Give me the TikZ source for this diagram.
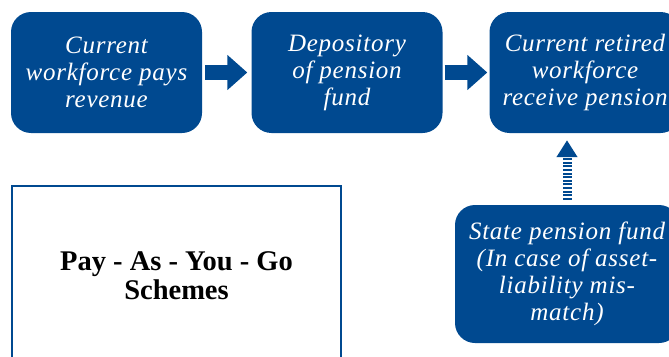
\documentclass[tikz,border=0pt]{standalone}
\usepackage{fontspec}
\setmainfont{Liberation Serif}
\newfontfamily\boxfont[LetterSpace=3]{Liberation Serif}
\usetikzlibrary{arrows.meta}
\definecolor{pblue}{RGB}{0,73,144}
\tikzset{
  bluebox/.style={fill=pblue, rounded corners=20pt, text=white, align=center,
    minimum width=191pt, minimum height=121pt, inner sep=0pt,
    font=\boxfont\fontsize{25}{27}\selectfont\itshape},
  blockarrow/.style={draw=pblue, line width=15pt, -{Triangle[length=20pt,width=34pt]}},
  dasharrow/.style={draw=pblue, line width=9pt, dash pattern=on 2pt off 1.6pt,
    -{Triangle[length=17pt,width=20pt]}},
  framebox/.style={draw=pblue, line width=2pt, minimum width=329pt, minimum height=180pt,
    inner sep=0pt, align=center, font=\fontsize{28.5}{29}\selectfont\bfseries}
}
\begin{document}
\begin{tikzpicture}[x=1pt,y=-1pt]
\useasboundingbox (0,0) rectangle (669,356);
\clip (0,0) rectangle (669,356);
\node[bluebox] (a) at (106.5,72.5) {Current\\workforce pays\\revenue};
\node[bluebox] (b) at (347,72.5) {Depository\\of pension\\fund};
\node[bluebox] (c) at (585,72.5) {Current retired\\workforce\\receive pension};
\node[bluebox, minimum width=224pt, minimum height=138pt] (d) at (567,274) {State pension fund\\(In case of asset-\\liability mis-\\match)};
\node[framebox] (e) at (176.5,276) {Pay - As - You - Go\\Schemes};
\draw[blockarrow, shorten <=3pt, shorten >=4pt] (a.east) -- (b.west);
\draw[blockarrow, shorten <=2pt, shorten >=2pt] (b.east) -- (c.west);
\draw[dasharrow, shorten <=5pt, shorten >=7pt] (d.north -| 567,0) -- (c.south -| 567,0);
\end{tikzpicture}
\end{document}
